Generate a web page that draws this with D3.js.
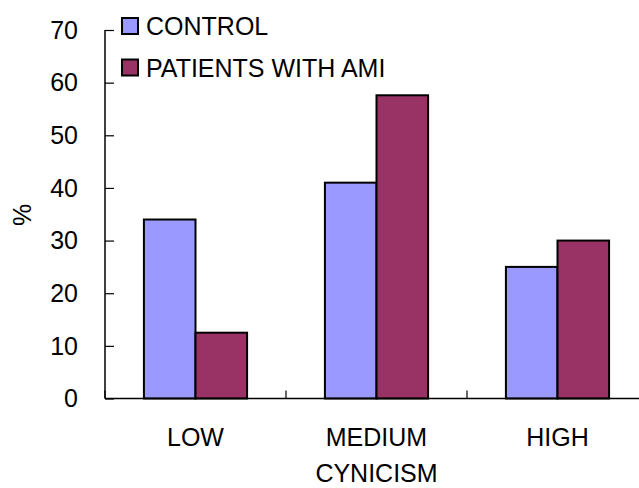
<!DOCTYPE html>
<html>
<head>
<meta charset="utf-8">
<script src="https://cdn.jsdelivr.net/npm/d3@7"></script>
<style>
  html, body { margin: 0; padding: 0; background: #fff; }
  svg { display: block; font-family: "Liberation Sans", Arial, sans-serif; }
</style>
</head>
<body>
<svg id="chart" width="639" height="488"></svg>
<script>
// Share of respondents (%) by cynicism level
const categories = ["LOW", "MEDIUM", "HIGH"];
const seriesNames = ["CONTROL", "PATIENTS WITH AMI"];
const controlValues = [34, 41, 25];
const amiValues = [12.5, 57.6, 30];
const yTicks = [0, 10, 20, 30, 40, 50, 60, 70];
const colors = ["#9999FF", "#993366"];

const svg = d3.select("#chart");
const plotLeft = 105, plotRight = 648, plotTop = 30, plotBottom = 398.5;
const fontSize = 25;

const x0 = d3.scaleBand().domain(categories).range([plotLeft, plotRight]).padding(0);
const bw = x0.bandwidth();
const x1 = d3.scaleBand().domain(seriesNames)
  .range([bw * 0.215, bw * 0.785]).padding(0);
const y = d3.scaleLinear().domain([0, 70]).range([plotBottom, plotTop]);

const rows = categories.map((c, i) => ({
  cat: c,
  vals: [controlValues[i], amiValues[i]]
}));

// bars
const g = svg.append("g");
rows.forEach(r => {
  r.vals.forEach((v, j) => {
    g.append("rect")
      .attr("x", x0(r.cat) + x1(seriesNames[j]))
      .attr("y", y(v))
      .attr("width", x1.bandwidth())
      .attr("height", y(0) - y(v))
      .attr("fill", colors[j])
      .attr("stroke", "#000")
      .attr("stroke-width", 2);
  });
});

// y axis with inward ticks
const yAxis = d3.axisRight(y).tickValues(yTicks).tickSize(9).tickFormat("");
const yg = svg.append("g").attr("transform", `translate(${plotLeft},0)`).call(yAxis);
yg.select(".domain").attr("stroke", "#000").attr("stroke-width", 1.5).attr("d", `M0,${plotTop}V${plotBottom}`);
yg.selectAll(".tick line").attr("stroke", "#000").attr("stroke-width", 1.2);

yTicks.forEach(t => {
  svg.append("text")
    .attr("x", 78)
    .attr("y", y(t) + 8.8)
    .attr("text-anchor", "end")
    .attr("font-size", fontSize)
    .attr("fill", "#000")
    .text(t);
});

// x axis with inward ticks at category boundaries
const boundaries = categories.map(c => x0(c)).concat([plotRight]);
svg.append("line")
  .attr("x1", plotLeft).attr("x2", 639)
  .attr("y1", plotBottom).attr("y2", plotBottom)
  .attr("stroke", "#000").attr("stroke-width", 1.5);
boundaries.forEach(b => {
  svg.append("line")
    .attr("x1", b).attr("x2", b)
    .attr("y1", plotBottom).attr("y2", plotBottom - 8)
    .attr("stroke", "#000").attr("stroke-width", 1.2);
});

categories.forEach(c => {
  svg.append("text")
    .attr("x", x0(c) + bw / 2)
    .attr("y", 446)
    .attr("text-anchor", "middle")
    .attr("font-size", fontSize)
    .attr("fill", "#000")
    .text(c);
});

// axis titles
svg.append("text")
  .attr("x", x0("MEDIUM") + bw / 2)
  .attr("y", 482)
  .attr("text-anchor", "middle")
  .attr("font-size", fontSize)
  .attr("fill", "#000")
  .text("CYNICISM");

svg.append("text")
  .attr("transform", "translate(31,215) rotate(-90)")
  .attr("text-anchor", "middle")
  .attr("font-size", fontSize)
  .attr("fill", "#000")
  .text("%");

// legend
seriesNames.forEach((s, i) => {
  const cy = 26 + i * 41.5;
  svg.append("rect")
    .attr("x", 122).attr("y", cy - 8)
    .attr("width", 16).attr("height", 16)
    .attr("fill", colors[i])
    .attr("stroke", "#000").attr("stroke-width", 2);
  svg.append("text")
    .attr("x", 146)
    .attr("y", cy + 9)
    .attr("font-size", fontSize)
    .attr("fill", "#000")
    .text(s);
});
</script>
</body>
</html>
